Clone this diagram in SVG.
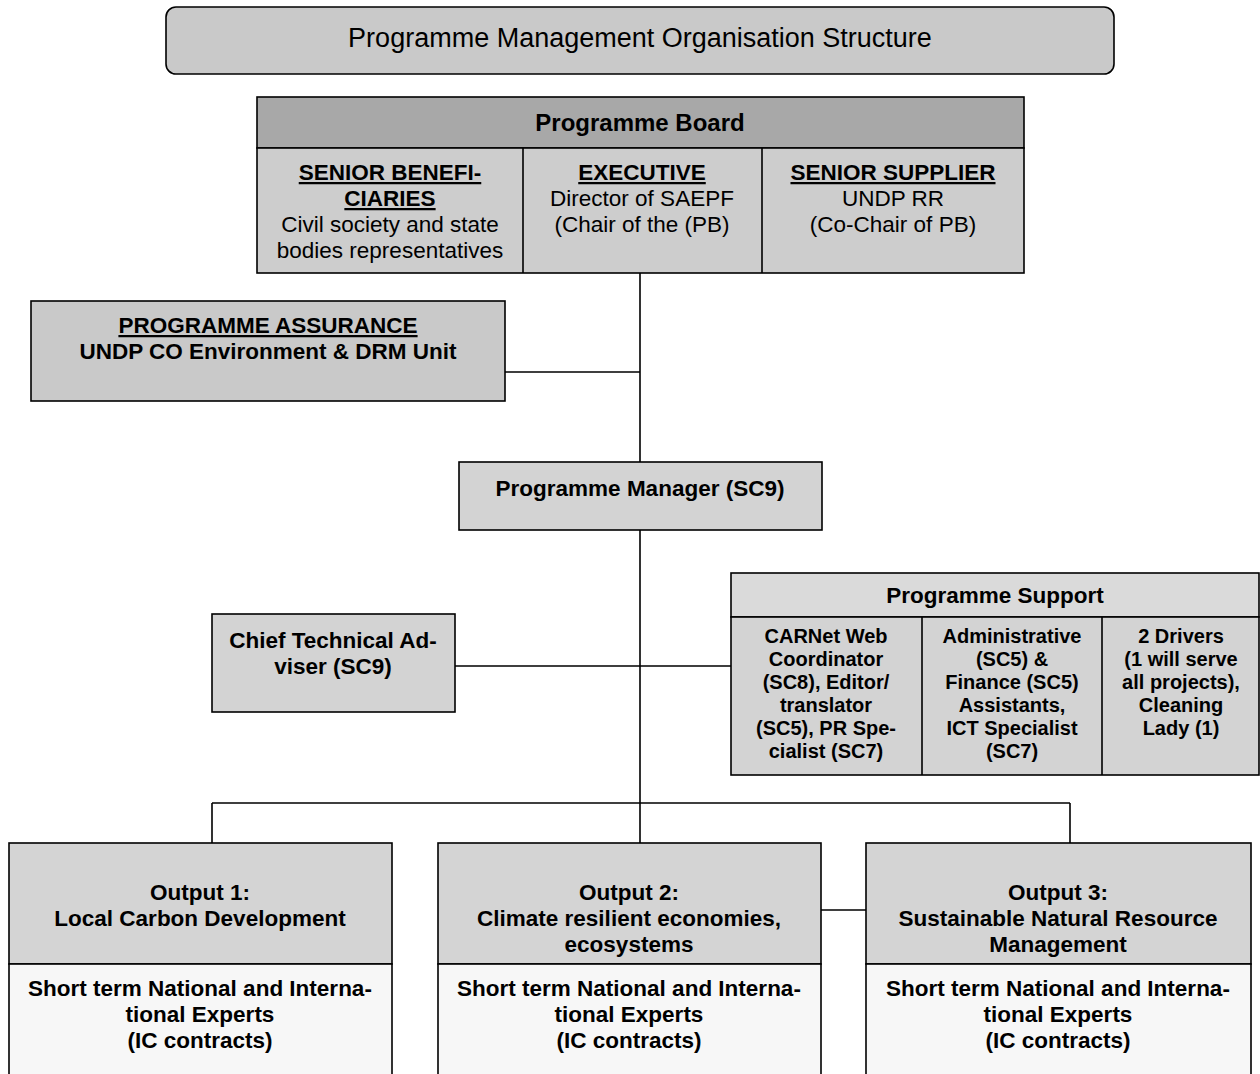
<svg xmlns="http://www.w3.org/2000/svg" width="1260" height="1074" viewBox="0 0 1260 1074">
<style>
text{font-family:"Liberation Sans",Arial,sans-serif;fill:#000;text-anchor:middle}
.b{font-weight:bold}
.t22{font-size:22.5px}
.t20{font-size:20px}
.u{text-decoration:underline}
.box{stroke:#000;stroke-width:1.6}
.ln{stroke:#000;stroke-width:1.6;fill:none}
</style>
<rect width="1260" height="1074" fill="#fff"/>
<g id="title">
<rect class="box" x="166" y="7" width="948" height="67" rx="10" fill="#c9c9c9"/>
<text x="640" y="47" style="font-size:27px">Programme Management Organisation Structure</text>
</g>
<g id="connectors">
<path class="ln" d="M640 273V462M505 372H640M640 530V803M455 666H731M212 803H1070M212 803V843M640 803V843M1070 803V843M821 910H866"/>
</g>
<g id="board">
<rect class="box" x="257" y="97" width="767" height="51" fill="#a8a8a8"/>
<rect class="box" x="257" y="148" width="767" height="125" fill="#cdcdcd"/>
<path class="ln" d="M523 148V273M762 148V273"/>
<text class="b" x="640" y="131" style="font-size:24px">Programme Board</text>
<text class="t22" x="390" y="180"><tspan class="b u">SENIOR BENEFI-</tspan></text>
<text class="t22" x="390" y="206"><tspan class="b u">CIARIES</tspan></text>
<text class="t22" x="390" y="232">Civil society and state</text>
<text class="t22" x="390" y="258">bodies representatives</text>
<text class="t22" x="642" y="180"><tspan class="b u">EXECUTIVE</tspan></text>
<text class="t22" x="642" y="206">Director of SAEPF</text>
<text class="t22" x="642" y="232">(Chair of the (PB)</text>
<text class="t22" x="893" y="180"><tspan class="b u">SENIOR SUPPLIER</tspan></text>
<text class="t22" x="893" y="206">UNDP RR</text>
<text class="t22" x="893" y="232">(Co-Chair of PB)</text>
</g>
<g id="assurance">
<rect class="box" x="31" y="301" width="474" height="100" fill="#c9c9c9"/>
<text class="t22 b" x="268" y="333"><tspan class="u">PROGRAMME ASSURANCE</tspan></text>
<text class="t22 b" x="268" y="359">UNDP CO Environment &amp; DRM Unit</text>
</g>
<g id="manager">
<rect class="box" x="459" y="462" width="363" height="68" fill="#d3d3d3"/>
<text class="t22 b" x="640" y="496">Programme Manager (SC9)</text>
</g>
<g id="cta">
<rect class="box" x="212" y="614" width="243" height="98" fill="#d3d3d3"/>
<text class="t22 b" x="333" y="648">Chief Technical Ad-</text>
<text class="t22 b" x="333" y="674">viser (SC9)</text>
</g>
<g id="support">
<rect class="box" x="731" y="573" width="528" height="44" fill="#dadada"/>
<rect class="box" x="731" y="617" width="528" height="158" fill="#d3d3d3"/>
<path class="ln" d="M922 617V775M1102 617V775"/>
<text class="t22 b" x="995" y="603">Programme Support</text>
<g class="t20 b">
<text x="826" y="643">CARNet Web</text>
<text x="826" y="666">Coordinator</text>
<text x="826" y="689">(SC8), Editor/</text>
<text x="826" y="712">translator</text>
<text x="826" y="735">(SC5), PR Spe-</text>
<text x="826" y="758">cialist (SC7)</text>
<text x="1012" y="643">Administrative</text>
<text x="1012" y="666">(SC5) &amp;</text>
<text x="1012" y="689">Finance (SC5)</text>
<text x="1012" y="712">Assistants,</text>
<text x="1012" y="735">ICT Specialist</text>
<text x="1012" y="758">(SC7)</text>
<text x="1181" y="643">2 Drivers</text>
<text x="1181" y="666">(1 will serve</text>
<text x="1181" y="689">all projects),</text>
<text x="1181" y="712">Cleaning</text>
<text x="1181" y="735">Lady (1)</text>
</g>
</g>
<g id="output1">
<rect class="box" x="9" y="843" width="383" height="121" fill="#d4d4d4"/>
<rect class="box" x="9" y="964" width="383" height="120" fill="#f7f7f7"/>
<g class="t22 b">
<text x="200" y="900">Output 1:</text>
<text x="200" y="926">Local Carbon Development</text>
<text x="200" y="996">Short term National and Interna-</text>
<text x="200" y="1022">tional Experts</text>
<text x="200" y="1048">(IC contracts)</text>
</g>
</g>
<g id="output2">
<rect class="box" x="438" y="843" width="383" height="121" fill="#d4d4d4"/>
<rect class="box" x="438" y="964" width="383" height="120" fill="#f7f7f7"/>
<g class="t22 b">
<text x="629" y="900">Output 2:</text>
<text x="629" y="926">Climate resilient economies,</text>
<text x="629" y="952">ecosystems</text>
<text x="629" y="996">Short term National and Interna-</text>
<text x="629" y="1022">tional Experts</text>
<text x="629" y="1048">(IC contracts)</text>
</g>
</g>
<g id="output3">
<rect class="box" x="866" y="843" width="385" height="121" fill="#d4d4d4"/>
<rect class="box" x="866" y="964" width="385" height="120" fill="#f7f7f7"/>
<g class="t22 b">
<text x="1058" y="900">Output 3:</text>
<text x="1058" y="926">Sustainable Natural Resource</text>
<text x="1058" y="952">Management</text>
<text x="1058" y="996">Short term National and Interna-</text>
<text x="1058" y="1022">tional Experts</text>
<text x="1058" y="1048">(IC contracts)</text>
</g>
</g>
</svg>
